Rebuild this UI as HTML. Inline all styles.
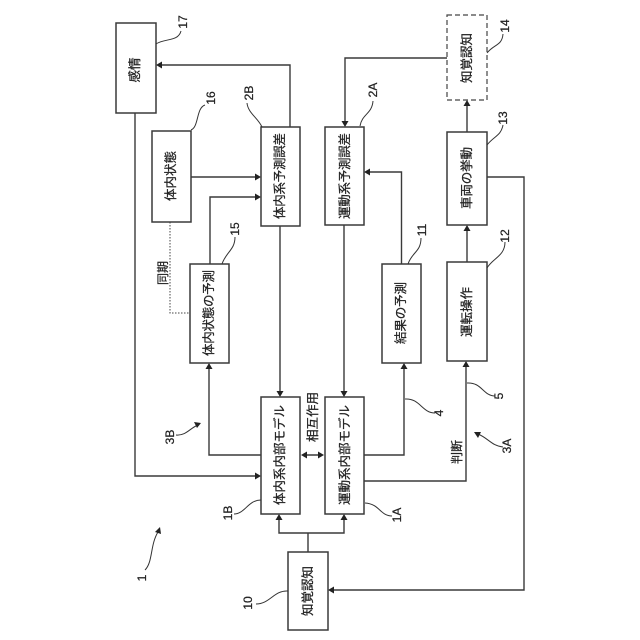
<!DOCTYPE html>
<html><head><meta charset="utf-8">
<style>
html,body{margin:0;padding:0;background:#fff;width:640px;height:640px;overflow:hidden}
svg{display:block}
text{font-family:"Liberation Sans","Noto Sans CJK JP",sans-serif;fill:#222;stroke:#222;stroke-width:.25;text-anchor:middle;dominant-baseline:central}
.b{fill:#fff;stroke:#3a3a3a;stroke-width:1.5}
.l{fill:none;stroke:#3a3a3a;stroke-width:1.4}
.c{fill:none;stroke:#333;stroke-width:1}
.a{fill:#222;stroke:none}
.t{font-size:12.5px}
.n{font-size:12px}
</style></head><body>
<svg width="640" height="640" viewBox="0 0 640 640" xmlns="http://www.w3.org/2000/svg">
<!-- connectors -->
<path class="l" d="M290 127V65H160"/>
<path class="l" d="M135 113V476H257"/>
<path class="l" d="M191 177H257"/>
<path class="l" d="M210 264V197H257"/>
<path d="M170 222V313H190" fill="none" stroke="#444" stroke-width="1" stroke-dasharray="1.5 1.5"/>
<path class="l" d="M280 226V393"/>
<path class="l" d="M447 58H345V123"/>
<path class="l" d="M344 225V393"/>
<path class="l" d="M401.500 264V172H368"/>
<path class="l" d="M467 132V104"/>
<path class="l" d="M467 262V229"/>
<path class="l" d="M364 481H466V365"/>
<path class="l" d="M364 455H404V367"/>
<path class="l" d="M261 455H209V367"/>
<path class="l" d="M304 455H321"/>
<path class="l" d="M308 552V533M279 518V533H344V518"/>
<path class="l" d="M487 177H524V590H332"/>
<!-- arrowheads -->
<path class="a" d="M156 65l6-3.500v7z"/>
<path class="a" d="M261 476l-6-3.500v7z"/>
<path class="a" d="M261 177l-6-3.500v7z"/>
<path class="a" d="M261 197l-6-3.500v7z"/>
<path class="a" d="M280 397l-3.500-6h7z"/>
<path class="a" d="M345 127l-3.500-6h7z"/>
<path class="a" d="M344 397l-3.500-6h7z"/>
<path class="a" d="M364 172l6-3.500v7z"/>
<path class="a" d="M467 100l-3.500 6h7z"/>
<path class="a" d="M467 225l-3.500 6h7z"/>
<path class="a" d="M466 361l-3.500 6h7z"/>
<path class="a" d="M404 363l-3.500 6h7z"/>
<path class="a" d="M209 363l-3.500 6h7z"/>
<path class="a" d="M301 455l6-3.500v7z"/>
<path class="a" d="M324 455l-6-3.500v7z"/>
<path class="a" d="M279 514l-3.500 6h7z"/>
<path class="a" d="M344 514l-3.500 6h7z"/>
<path class="a" d="M328 590l6-3.500v7z"/>
<!-- boxes -->
<rect class="b" x="116" y="23" width="40" height="90"/>
<rect class="b" x="152" y="131" width="39" height="91"/>
<rect class="b" x="261" y="127" width="39" height="99"/>
<rect class="b" x="325" y="127" width="39" height="98"/>
<rect x="447" y="15" width="40" height="85" fill="#fff" stroke="#444" stroke-width="1.200" stroke-dasharray="5 3"/>
<rect class="b" x="447" y="132" width="40" height="93"/>
<rect class="b" x="190" y="264" width="39" height="99"/>
<rect class="b" x="382" y="264" width="39" height="99"/>
<rect class="b" x="447" y="262" width="40" height="99"/>
<rect class="b" x="261" y="397" width="39" height="117"/>
<rect class="b" x="325" y="397" width="39" height="117"/>
<rect class="b" x="288" y="552" width="40" height="78"/>
<!-- leaders -->
<path class="c" d="M156 44C165 38 178 42 181 31"/>
<path class="c" d="M191 130C199 127 196 108 205 105"/>
<path class="c" d="M262 127C258 118 248 113 247 103"/>
<path class="c" d="M360 126C362 114 372 114 373 101"/>
<path class="c" d="M487 53C494 44 502 46 503 34"/>
<path class="c" d="M487 145C494 136 501 136 503 125"/>
<path class="c" d="M222 264C226 252 235 250 235 237"/>
<path class="c" d="M408 264C412 252 421 252 421 238"/>
<path class="c" d="M487 268C493 258 505 256 505 242"/>
<path class="c" d="M467 383C482 382 483 396 495 396"/>
<path class="c" d="M405 399C420 398 422 413 435 413"/>
<path class="c" d="M365 503C380 504 380 516 392 516"/>
<path class="c" d="M261 500C248 500 245 514 234 514"/>
<path class="c" d="M288 591C274 590 270 604 256 604"/>
<path class="c" d="M176 435C186 436 190 428 198 425"/>
<path class="a" d="M201 423l-7-1 3 6z"/>
<path class="c" d="M503 447C492 446 488 438 478 434"/>
<path class="a" d="M474 432l7 0-3 6z"/>
<path class="c" d="M145 570C153 562 150 545 158 532"/>
<path class="a" d="M160 527l-5 5 6 2z"/>
<!-- box labels -->
<text class="t" transform="translate(135,70) rotate(-90)">感情</text>
<text class="t" transform="translate(171,176) rotate(-90)" textLength="50">体内状態</text>
<text class="t" transform="translate(280,176) rotate(-90)" textLength="86">体内系予測誤差</text>
<text class="t" transform="translate(345,176) rotate(-90)" textLength="86">運動系予測誤差</text>
<text class="t" transform="translate(467,58) rotate(-90)" textLength="50">知覚認知</text>
<text class="t" transform="translate(467,178) rotate(-90)" textLength="62">車両の挙動</text>
<text class="t" transform="translate(209,313) rotate(-90)" textLength="86">体内状態の予測</text>
<text class="t" transform="translate(401,313) rotate(-90)" textLength="62">結果の予測</text>
<text class="t" transform="translate(467,312) rotate(-90)" textLength="50">運転操作</text>
<text class="t" transform="translate(280,455) rotate(-90)" textLength="100">体内系内部モデル</text>
<text class="t" transform="translate(345,455) rotate(-90)" textLength="100">運動系内部モデル</text>
<text class="t" transform="translate(308,591) rotate(-90)" textLength="50">知覚認知</text>
<text class="t" transform="translate(313,417) rotate(-90)" textLength="50">相互作用</text>
<text class="n" transform="translate(163,273) rotate(-90)">同期</text>
<text class="n" transform="translate(457,452) rotate(-90)">判断</text>
<!-- numerals -->
<text class="n" transform="translate(183,22) rotate(-90)">17</text>
<text class="n" transform="translate(211,98) rotate(-90)">16</text>
<text class="n" transform="translate(249,93) rotate(-90)">2B</text>
<text class="n" transform="translate(373,90) rotate(-90)">2A</text>
<text class="n" transform="translate(505,26) rotate(-90)">14</text>
<text class="n" transform="translate(503,118) rotate(-90)">13</text>
<text class="n" transform="translate(235,229) rotate(-90)">15</text>
<text class="n" transform="translate(422,230) rotate(-90)">11</text>
<text class="n" transform="translate(505,236) rotate(-90)">12</text>
<text class="n" transform="translate(499,396) rotate(-90)">5</text>
<text class="n" transform="translate(439,413) rotate(-90)">4</text>
<text class="n" transform="translate(170,437) rotate(-90)">3B</text>
<text class="n" transform="translate(507,446) rotate(-90)">3A</text>
<text class="n" transform="translate(397,515) rotate(-90)">1A</text>
<text class="n" transform="translate(228,513) rotate(-90)">1B</text>
<text class="n" transform="translate(248,603) rotate(-90)">10</text>
<text class="n" transform="translate(142,578) rotate(-90)">1</text>
</svg>
</body></html>
